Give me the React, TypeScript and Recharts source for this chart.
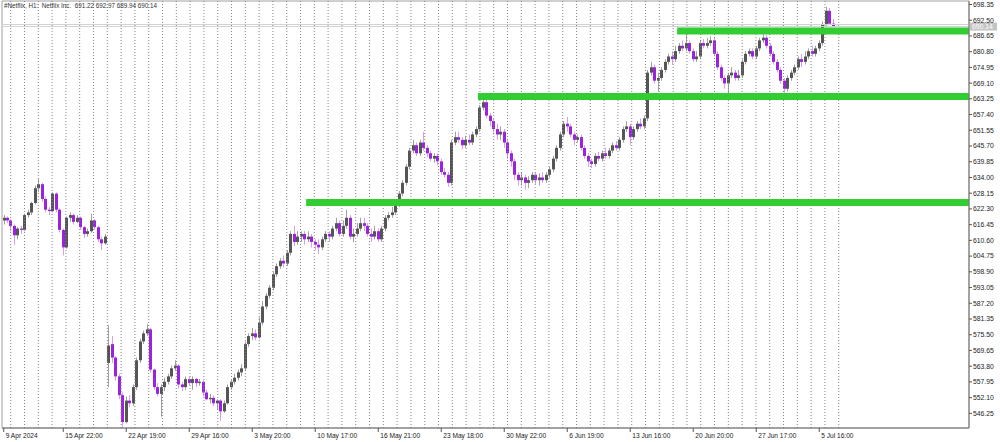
import React from "react";
import { ComposedChart, Bar, XAxis, YAxis, ReferenceLine, ReferenceArea } from "recharts";

// one entry per bar: [open, high, low, close]
const candles: number[][] = [
  [618, 620, 616.5, 619], [619, 619.5, 617, 618], [618, 618.5, 614, 616], [616, 616.5, 609, 612.5],
  [612.5, 615.5, 611, 615], [615, 616, 613, 614.5], [614.5, 620.5, 614, 620], [620, 622, 619, 621],
  [621, 625, 620, 624.5], [624.5, 631, 624, 630], [630, 633.5, 628.5, 631.5], [631.5, 632, 625, 626],
  [626, 627, 621, 622], [622, 623, 620, 621.5], [621.5, 628.5, 621, 628], [628, 628.5, 621, 622],
  [622, 622.5, 613.5, 614.5], [614.5, 615, 605, 608], [608, 619.5, 607.5, 619], [619, 621, 617.5, 620],
  [620, 620.5, 616.5, 617.5], [617.5, 620, 617, 619], [619, 619.5, 614.5, 615.5], [615.5, 616, 611.5, 613],
  [613, 615, 612, 614], [614, 620.5, 613.5, 618], [618, 618.5, 614.5, 615.5], [615.5, 616, 610, 611],
  [611, 612, 607, 609.5], [609.5, 613, 609, 612],
  // gap down
  [565, 579, 556, 571.5], [572, 575, 565, 567], [567, 567.5, 558.5, 560], [560, 561, 551.5, 553],
  [553, 554, 541, 543], [543, 552.5, 542.5, 551], [551, 553, 548.5, 550], [550, 557, 549, 556],
  [556, 567, 555, 566], [566, 574, 565, 573], [573, 577, 572, 576], [576, 579.5, 575, 577.5],
  [577.5, 578, 561.5, 562.5], [562.5, 563, 555, 556], [556, 557.5, 552.5, 553.5], [553.5, 557, 545, 556],
  [556, 559.5, 554.5, 558], [558, 561, 557, 560], [560, 564, 559, 563], [563, 566, 562, 564],
  [564, 564.5, 555.5, 557], [557, 558, 554.5, 556], [556, 560, 555, 559], [559, 560, 556.5, 557.5],
  [557.5, 560, 555, 559], [559, 559.5, 556, 557.5], [557.5, 559, 556.5, 558], [558, 558.5, 552.5, 554],
  [554, 555, 551, 551.5], [551.5, 553.5, 550, 552], [552, 553, 549, 550], [550, 551.5, 547.5, 551],
  [551, 551.5, 543.5, 547], [547, 551, 546.5, 550], [550, 557, 549.5, 556], [556, 559, 555, 558],
  [558, 561, 557, 559.5], [559.5, 562.5, 558.5, 561.5], [561.5, 564.5, 560, 563], [563, 573, 562, 572],
  [572, 576, 571, 575], [575, 578, 573.5, 576], [576, 577.5, 573.5, 574.5], [574.5, 582, 574, 580],
  [580, 588, 579, 586], [586, 591, 585, 590], [590, 594, 589, 593], [593, 599, 592, 598],
  [598, 602, 597, 601], [601, 604, 600, 603], [603, 605, 600.5, 602], [602, 607, 601, 606],
  [606, 614, 605, 613], [613, 616, 608.5, 610], [610, 614, 609, 612], [612, 614, 610, 613],
  [613, 614, 609, 611], [611, 614, 610, 612], [612, 613, 608, 610], [610, 611, 607, 609],
  [609, 611, 605.5, 608], [608, 612, 607, 611], [611, 614, 610, 613], [613, 614, 610, 612],
  [612, 616, 611, 615], [615, 619, 614, 617], [617, 618, 612, 613], [613, 618, 612, 616],
  [616, 622, 615, 619], [619, 620, 611, 612], [612, 615, 610, 613], [613, 617, 612, 615],
  [615, 619, 614, 617], [617, 619, 614, 616], [616, 617, 612, 613], [613, 615, 610, 612],
  [612, 616, 611, 614], [614, 615, 610, 611], [611, 616, 610, 615], [615, 620, 614, 619],
  [619, 621, 618, 620], [620, 623, 619, 621], [621, 625, 620, 624], [624, 629, 623, 628],
  [628, 633, 627, 632], [632, 639, 631, 638], [638, 645, 637, 644], [644, 648, 643, 646],
  [646, 647, 642, 643], [643, 648, 642, 647], [647, 651, 644, 645], [645, 646, 641.5, 643],
  [643, 644, 640, 641], [641, 643, 639.5, 642], [642, 643, 638.5, 640], [640, 641, 635, 636],
  [636, 637.5, 634, 635], [635, 636, 630.5, 632], [632, 648, 631, 647], [647, 651, 646, 649],
  [649, 651, 647, 648], [648, 649, 644.5, 646], [646, 649.5, 645, 648], [648, 650, 646, 647],
  [647, 651, 646, 650], [650, 653, 649, 652], [652, 661, 651, 660], [660, 665, 659, 662],
  [662, 663, 656, 657], [657, 658, 653, 655], [655, 656, 650, 652], [652, 654, 648, 650],
  [650, 653, 648, 651], [651, 652, 645, 647], [647, 648, 641, 643], [643, 644, 638, 640],
  [640, 641, 633, 635], [635, 636, 631, 633], [633, 636, 631, 634], [634, 635, 629.5, 632],
  [632, 634.5, 630, 633], [633, 636, 632, 635], [635, 636, 631.5, 633], [633, 635.5, 631, 634],
  [634, 636, 632, 633], [633, 636, 632, 635], [635, 638, 634, 637], [637, 642, 636, 641],
  [641, 646, 640, 645], [645, 651, 644, 650], [650, 655, 649, 654], [654, 656.5, 651, 653],
  [653, 654, 649, 650], [650, 651, 646, 648], [648, 650, 647, 649], [649, 650, 644, 645],
  [645, 646, 641, 642], [642, 643, 638, 640], [640, 641, 637.5, 639], [639, 643, 638, 642],
  [642, 643.5, 640, 641], [641, 644, 640, 643], [643, 645, 641, 642], [642, 645, 641, 644],
  [644, 647, 643, 646], [646, 647.5, 644, 645], [645, 649, 644, 648], [648, 653, 647, 652],
  [652, 655, 651, 653], [653, 654, 646, 649], [649, 653, 648, 652], [652, 655, 651, 654],
  [654, 656, 652, 653], [653, 657, 652, 656], [656, 674, 655, 673], [673, 677, 672, 675],
  [675, 676, 669, 670], [670, 673, 666, 671], [671, 675, 670, 674], [674, 678, 673, 677],
  [677, 680, 676, 679], [679, 681, 676, 678], [678, 683, 677, 681], [681, 684, 680, 683],
  [683, 685, 681, 682], [682, 689.5, 681, 684], [684, 685, 680, 681], [681, 682, 677, 678],
  [678, 681, 677, 679], [679, 685, 678, 684], [684, 685.5, 682, 683], [683, 686, 682, 684],
  [684, 686.5, 683, 685], [685, 686, 679, 680], [680, 681, 674, 675], [675, 676, 670, 671],
  [671, 672, 667, 669], [669, 673, 663.5, 672], [672, 675, 671, 673], [673, 674, 670, 671],
  [671, 674, 670, 672], [672, 678, 671, 677], [677, 681, 676, 680], [680, 682, 679, 681],
  [681, 682, 678, 679], [679, 683, 678, 682], [682, 686, 681, 685], [685, 688, 684, 686],
  [686, 687, 682, 683], [683, 684, 679, 680], [680, 681, 676, 677], [677, 678, 673, 674],
  [674, 675, 669, 670], [670, 671, 665.5, 667], [667, 672, 666, 671], [671, 674, 670, 673],
  [673, 676, 672, 675], [675, 679, 674, 678], [678, 680, 675, 677], [677, 681, 676, 679],
  [679, 682, 678, 681], [681, 683, 679, 680], [680, 683, 679, 682], [682, 685, 681, 684],
  [684, 692, 683, 691], [691, 697.5, 690, 696], [696, 697, 691, 691.22], [691.22, 692.97, 689.94, 690.14],
];

const priceTicks = [
  698.35, 692.5, 686.65, 680.8, 674.95, 669.1, 663.25, 657.4, 651.55, 645.7, 639.85, 634.0, 628.15, 622.3,
  616.45, 610.6, 604.75, 598.9, 593.05, 587.2, 581.35, 575.5, 569.65, 563.8, 557.95, 552.1, 546.25,
];

const dateLabels = [
  "9 Apr 2024", "15 Apr 22:00", "22 Apr 19:00", "29 Apr 16:00", "3 May 20:00", "10 May 17:00", "16 May 21:00",
  "23 May 18:00", "30 May 22:00", "6 Jun 19:00", "13 Jun 16:00", "20 Jun 20:00", "27 Jun 17:00", "5 Jul 16:00",
];
const dateLabelBars = [0, 17, 35, 53, 71, 89, 107, 125, 143, 161, 179, 197, 215, 233];

// horizontal levels drawn on the chart (bar where they start, price)
const levelStarts = [86.4, 135.5, 192.4];
const levelPrices = [624.7, 664.1, 688.5];

const bidPrice = 690.14;
const askPrice = 690.9;
const title = "#Netflix, H1:  Netflix Inc.  691.22 692.97 689.94 690.14";

const X_MIN = -0.5;
const X_MAX = 275.79;
const Y_MIN = 540.8;
const Y_MAX = 699.65;

// session separators (one per trading day)
const dayLines = Array.from({ length: 61 }, (_, k) => 1.99 + k * 3.943);

const FONT = "'Liberation Sans', Arial, sans-serif";

const data = candles.map(([o, h, l, c], i) => ({ i, o, h, l, c, range: [l, h] }));

function Candle(props: any) {
  const { x, y, width, height, payload } = props;
  const { o, h, l, c } = payload;
  const up = c >= o;
  const cx = Math.round(x + width / 2);
  const span = h - l || 1;
  const hgt = Math.abs(height);
  const top = y + ((h - Math.max(o, c)) / span) * hgt;
  const bot = y + ((h - Math.min(o, c)) / span) * hgt;
  return (
    <g>
      <line x1={cx + 0.5} x2={cx + 0.5} y1={y} y2={y + hgt} stroke={up ? "#a0a0a0" : "#d69ef0"} strokeWidth={1} />
      <rect x={cx - 1} y={top} width={3} height={Math.max(1, bot - top)} fill={up ? "#555555" : "#9a22e0"} />
    </g>
  );
}

function DateTick(props: any) {
  const { x, y, payload } = props;
  const idx = dateLabelBars.indexOf(payload.value);
  return (
    <text x={x + 2} y={y + 6} fontSize={6.6} fontFamily={FONT} fill="#222" textAnchor="start">
      {dateLabels[idx]}
    </text>
  );
}

function PriceTick(props: any) {
  const { x, y, payload } = props;
  return (
    <text x={x + 1} y={y + 2.4} fontSize={6.8} fontFamily={FONT} fill="#222" textAnchor="start">
      {payload.value.toFixed(2)}
    </text>
  );
}

function PriceTag(props: any) {
  const vb = props.viewBox;
  return (
    <g>
      <rect x={vb.x + vb.width + 1} y={vb.y - 4} width={27} height={8} fill="#c4c4c4" />
      <text x={vb.x + vb.width + 3} y={vb.y + 2.4} fontSize={6.8} fontFamily={FONT} fill="#ffffff">
        {bidPrice.toFixed(2)}
      </text>
    </g>
  );
}

export default function App() {
  return (
    <div style={{ position: "absolute", left: 0, top: 0, width: 1000, height: 442, background: "#fff" }}>
      <ComposedChart width={1000} height={442} data={data} margin={{ top: 1, right: 2, bottom: 0, left: 2 }}>
        <XAxis
          dataKey="i"
          type="number"
          domain={[X_MIN, X_MAX]}
          allowDataOverflow
          ticks={dateLabelBars}
          interval={0}
          height={14}
          tickSize={4}
          tickMargin={0}
          tickLine={{ stroke: "#555" }}
          axisLine={{ stroke: "#777" }}
          tick={<DateTick />}
        />
        <YAxis
          orientation="right"
          type="number"
          domain={[Y_MIN, Y_MAX]}
          allowDataOverflow
          ticks={priceTicks}
          interval={0}
          width={29}
          tickSize={3}
          tickMargin={0}
          tickLine={{ stroke: "#555" }}
          axisLine={{ stroke: "#777" }}
          tick={<PriceTick />}
        />
        <ReferenceArea x1={X_MIN} x2={X_MAX} y1={Y_MIN} y2={Y_MAX} fill="none" stroke="#a0a0a0" ifOverflow="visible" />
        {dayLines.map((d) => (
          <ReferenceLine key={`d${d}`} x={d} stroke="#858585" strokeDasharray="1 2" strokeWidth={1} />
        ))}
        <ReferenceLine y={askPrice} stroke="#d2d2d2" strokeWidth={1} />
        <ReferenceLine y={bidPrice} stroke="#d2d2d2" strokeWidth={1} label={<PriceTag />} />
        {levelPrices.map((p, k) => (
          <ReferenceLine
            key={`lvl${k}`}
            segment={[
              { x: levelStarts[k], y: p },
              { x: X_MAX, y: p },
            ]}
            stroke="#32cd32"
            strokeWidth={7}
          />
        ))}
        <Bar dataKey="range" barSize={3} isAnimationActive={false} shape={<Candle />} />
      </ComposedChart>
      <div
        style={{
          position: "absolute",
          left: 4,
          top: 2,
          fontSize: 6.3,
          lineHeight: "8px",
          fontFamily: FONT,
          color: "#333",
          whiteSpace: "pre",
        }}
      >
        {title}
      </div>
    </div>
  );
}
